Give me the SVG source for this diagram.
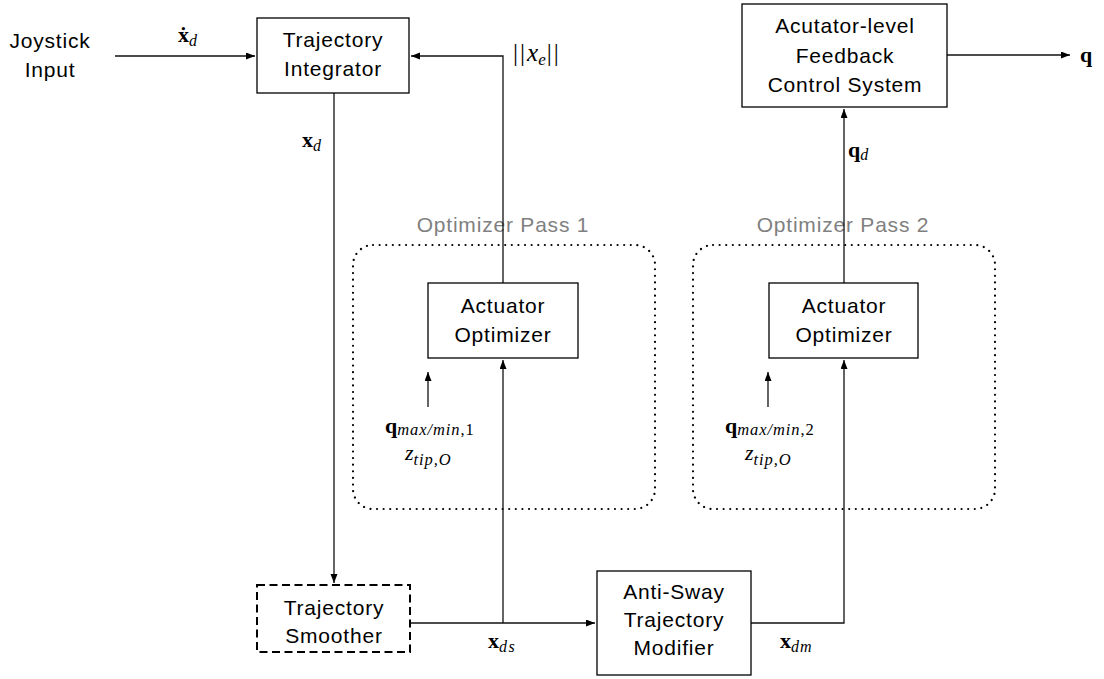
<svg xmlns="http://www.w3.org/2000/svg" width="1104" height="679" viewBox="0 0 1104 679">
<style>
.box{fill:#fff;stroke:#000;stroke-width:1.3}
.lbl{font-family:"Liberation Sans",Arial,sans-serif;font-size:21px;letter-spacing:0.8px;fill:#000;text-anchor:middle}
.grp{font-family:"Liberation Sans",Arial,sans-serif;font-size:21px;letter-spacing:0.8px;fill:#808080;text-anchor:middle}
.m{font-family:"Liberation Serif","Times New Roman",serif;font-size:22px;fill:#000}
.b{font-weight:bold}
.i{font-style:italic}
.sub{font-size:16px}
.wsub{font-size:16.5px;letter-spacing:0.9px}
.wire{fill:none;stroke:#111;stroke-width:1.3}
.dot{fill:none;stroke:#000;stroke-width:2.2;stroke-dasharray:0.01 6.6;stroke-linecap:round}
.dash{fill:#fff;stroke:#000;stroke-width:2;stroke-dasharray:8 4.5}
</style>
<defs>
<marker id="ah" markerUnits="userSpaceOnUse" markerWidth="10" markerHeight="8" refX="9" refY="3.5" orient="auto">
<path d="M0,0 L9,3.5 L0,7 z" fill="#000"/>
</marker>
</defs>

<g id="groups">
<g id="pass1">
<rect x="353" y="245" width="302" height="264" rx="20" ry="20" class="dot"/>
<text x="503" y="232" class="grp">Optimizer Pass 1</text>
</g>
<g id="pass2">
<rect x="693" y="245" width="302" height="264" rx="20" ry="20" class="dot"/>
<text x="843" y="232" class="grp">Optimizer Pass 2</text>
</g>
</g>

<g id="connectors">
<path class="wire" d="M115 56 H255" marker-end="url(#ah)"/>
<path class="wire" d="M503 283 V56 H411" marker-end="url(#ah)"/>
<path class="wire" d="M334 93 V583" marker-end="url(#ah)"/>
<path class="wire" d="M410 623 H595" marker-end="url(#ah)"/>
<path class="wire" d="M503 623 V360" marker-end="url(#ah)"/>
<path class="wire" d="M751 623 H844 V360" marker-end="url(#ah)"/>
<path class="wire" d="M844 283 V109" marker-end="url(#ah)"/>
<path class="wire" d="M947 55 H1070" marker-end="url(#ah)"/>
<path class="wire" d="M428 407 V372" marker-end="url(#ah)"/>
<path class="wire" d="M768 407 V372" marker-end="url(#ah)"/>
</g>

<g id="joystick">
<text x="50" y="48" class="lbl">Joystick</text>
<text x="50" y="77" class="lbl">Input</text>
</g>

<g id="integrator">
<rect x="257" y="18" width="152" height="75" class="box"/>
<text x="333" y="47" class="lbl">Trajectory</text>
<text x="333" y="76" class="lbl">Integrator</text>
</g>

<g id="feedback">
<rect x="742" y="4" width="205" height="103" class="box"/>
<text x="845" y="33" class="lbl">Acutator-level</text>
<text x="845" y="63" class="lbl">Feedback</text>
<text x="845" y="92" class="lbl">Control System</text>
</g>

<g id="optimizer1">
<rect x="428" y="283" width="150" height="75" class="box"/>
<text x="503" y="313" class="lbl">Actuator</text>
<text x="503" y="342" class="lbl">Optimizer</text>
</g>

<g id="optimizer2">
<rect x="769" y="283" width="149" height="75" class="box"/>
<text x="844" y="313" class="lbl">Actuator</text>
<text x="844" y="342" class="lbl">Optimizer</text>
</g>

<g id="smoother">
<rect x="257" y="585" width="153" height="67" class="dash"/>
<text x="334" y="615" class="lbl">Trajectory</text>
<text x="334" y="643" class="lbl">Smoother</text>
</g>

<g id="antisway">
<rect x="597" y="571" width="154" height="104" class="box"/>
<text x="674" y="599" class="lbl">Anti-Sway</text>
<text x="674" y="627" class="lbl">Trajectory</text>
<text x="674" y="655" class="lbl">Modifier</text>
</g>

<g id="labels">
<text x="178" y="42" class="m"><tspan class="b">ẋ</tspan><tspan class="i sub" dy="4">d</tspan></text>
<text x="302" y="147" class="m"><tspan class="b">x</tspan><tspan class="i sub" dy="4">d</tspan></text>
<text x="513" y="61" class="m" style="font-size:25px"><tspan letter-spacing="2">||</tspan><tspan class="i">x</tspan><tspan class="i" style="font-size:17px" dy="4" letter-spacing="1">e</tspan><tspan dy="-4" letter-spacing="2">||</tspan></text>
<text x="848" y="157" class="m"><tspan class="b">q</tspan><tspan class="i sub" dy="3">d</tspan></text>
<text x="1080" y="62" class="m b">q</text>
<text x="385" y="433" class="m"><tspan class="b">q</tspan><tspan class="wsub" dy="2"><tspan class="i">max/min</tspan>,1</tspan></text>
<text x="405" y="460" class="m"><tspan class="i">z</tspan><tspan class="i wsub" dy="5">tip,O</tspan></text>
<text x="725" y="433" class="m"><tspan class="b">q</tspan><tspan class="wsub" dy="2"><tspan class="i">max/min</tspan>,2</tspan></text>
<text x="745" y="460" class="m"><tspan class="i">z</tspan><tspan class="i wsub" dy="5">tip,O</tspan></text>
<text x="488" y="648" class="m"><tspan class="b">x</tspan><tspan class="i sub" dy="4" letter-spacing="1.5">ds</tspan></text>
<text x="780" y="648" class="m"><tspan class="b">x</tspan><tspan class="i sub" dy="4" letter-spacing="1">dm</tspan></text>
</g>
</svg>
